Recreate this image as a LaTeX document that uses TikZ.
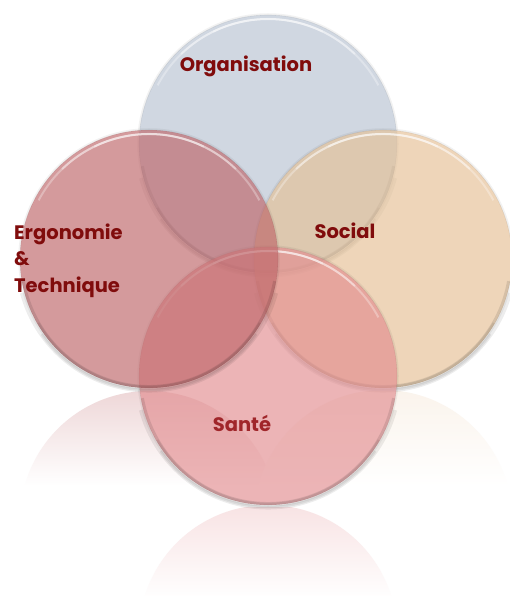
\documentclass[tikz,border=0pt]{standalone}
\usepackage{fontspec}
\newfontfamily\labelfont{Poppins}
\definecolor{orgc}{RGB}{183,195,210}
\definecolor{socc}{RGB}{229,192,149}
\definecolor{sanc}{RGB}{226,140,143}
\definecolor{ergc}{RGB}{190,101,104}
\definecolor{labelred}{RGB}{128,12,12}
\definecolor{santered}{RGB}{160,38,42}

\tikzset{
  disc/.style={circle, minimum size=258pt, inner sep=0pt, fill=#1, fill opacity=0.65},
  label/.style={font=\labelfont\bfseries\fontsize{19.5}{26.5}\selectfont, text=labelred, inner sep=0pt},
}

% glossy rim (y axis points down, so 0..180 is the lower half)
\newcommand\rimfx[1]{%
  \draw[black, opacity=0.05, line width=1.5pt] (#1.center) circle (130);
  \draw[black, opacity=0.07, line width=4pt] (#1.center) ++(15:131.5) arc (15:165:131.5);
  \draw[black, opacity=0.07, line width=2.5pt] (#1.center) ++(35:131) arc (35:145:131);
  \draw[black, opacity=0.10, line width=3pt] (#1.center) ++(10:127.5) arc (10:170:127.5);
  \draw[black, opacity=0.08, line width=2pt] (#1.center) ++(30:127.8) arc (30:150:127.8);
  \draw[black, opacity=0.08, line width=0.6pt] (#1.center) circle (129);
  \draw[white, opacity=0.30, line width=2pt] (#1.center) ++(208:125) arc (208:332:125);
  \draw[white, opacity=0.35, line width=2pt] (#1.center) ++(226:125) arc (226:314:125);
  \draw[white, opacity=0.35, line width=2pt] (#1.center) ++(244:125) arc (244:296:125);
}

\begin{document}
\begin{tikzpicture}[x=1pt,y=-1pt]
\useasboundingbox[fill=white] (0,0) rectangle (510,596);

% mirrored discs below the diagram
\begin{scope}
  \clip (149,520) circle (129);
  \shade[top color=ergc!26, bottom color=white] (0,391) rectangle (300,486);
\end{scope}
\begin{scope}
  \clip (383,519) circle (129);
  \shade[top color=socc!18, bottom color=white] (250,391) rectangle (520,486);
\end{scope}
\begin{scope}
  \clip (268,634) circle (129);
  \shade[top color=sanc!24, bottom color=white] (130,507) rectangle (410,600);
\end{scope}

% the four discs
\node[disc=orgc] (org) at (268,144) {};
\rimfx{org}
\node[disc=socc] (soc) at (383,259) {};
\rimfx{soc}
\node[disc=sanc] (san) at (268,376) {};
\rimfx{san}
\node[disc=ergc] (erg) at (149,259) {};
\rimfx{erg}

% labels
\node[label, anchor=base] (torg) at (246,72) {Organisation};
\node[label, anchor=base west, align=left] (terg) at (14,292) {Ergonomie\\\&\\Technique};
\node[label, anchor=base] (tsoc) at (345,238) {Social};
\node[label, anchor=base, text=santered] (tsan) at (242,431) {Santé};
\end{tikzpicture}
\end{document}
